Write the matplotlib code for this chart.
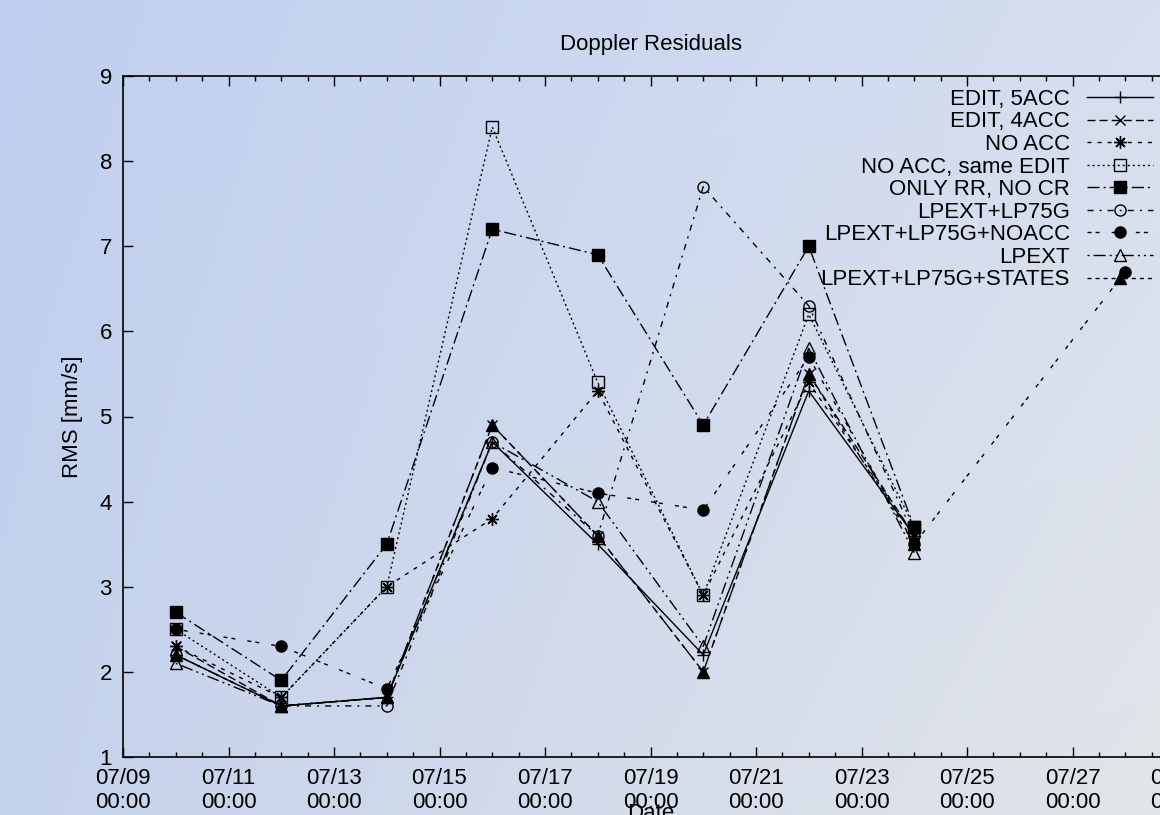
import numpy as np
import pandas as pd
import matplotlib
matplotlib.use("Agg")
import matplotlib.pyplot as plt
import matplotlib.dates as mdates

plt.rcParams["font.family"] = ["Liberation Sans", "DejaVu Sans"]
plt.rcParams["font.size"] = 16
plt.rcParams["lines.scale_dashes"] = False

# daily RMS of the Doppler residuals, one value per arc
arc_dates = pd.to_datetime(["2008-07-10", "2008-07-12", "2008-07-14", "2008-07-16",
                            "2008-07-18", "2008-07-20", "2008-07-22", "2008-07-24"])
late_dates = pd.to_datetime(["2008-07-10", "2008-07-12", "2008-07-14", "2008-07-16",
                             "2008-07-18", "2008-07-20", "2008-07-22", "2008-07-24",
                             "2008-07-28"])

edit_5acc = [2.2, 1.6, 1.7, 4.7, 3.5, 2.2, 5.3, 3.6]
edit_4acc = [2.3, 1.6, 1.7, 4.9, 3.6, 2.0, 5.5, 3.6]
no_acc = [2.3, 1.7, 3.0, 3.8, 5.3, 2.9, 5.4, 3.6]
no_acc_same_edit = [2.5, 1.7, 3.0, 8.4, 5.4, 2.9, 6.2, 3.7]
only_rr = [2.7, 1.9, 3.5, 7.2, 6.9, 4.9, 7.0, 3.7]
lpext_lp75g = [2.2, 1.6, 1.6, 4.7, 3.6, 7.7, 6.3, 3.6]
lpext_lp75g_noacc = [2.5, 2.3, 1.8, 4.4, 4.1, 3.9, 5.7, 3.5, 6.7]
lpext = [2.1, 1.6, 1.7, 4.7, 4.0, 2.3, 5.8, 3.4]
lpext_lp75g_states = [2.2, 1.6, 1.7, 4.9, 3.6, 2.0, 5.5, 3.5]

y_ticks = [1, 2, 3, 4, 5, 6, 7, 8, 9]

# gnuplot-like dash patterns, unit ~2 px
U = 1.45


def dash(*pattern):
    return (0, tuple(U * p for p in pattern))


series = [
    ("EDIT, 5ACC", arc_dates, edit_5acc, "-", "+", 9, True),
    ("EDIT, 4ACC", arc_dates, edit_4acc, dash(4, 2), "x", 7, True),
    ("NO ACC", arc_dates, no_acc, dash(2, 3), (8, 2, 0), 9, True),
    ("NO ACC, same EDIT", arc_dates, no_acc_same_edit, dash(1, 1.5), "s", 8, False),
    ("ONLY RR, NO CR", arc_dates, only_rr, dash(6, 2, 1, 2), "s", 8, True),
    ("LPEXT+LP75G", arc_dates, lpext_lp75g, dash(3, 3, 1, 3), "o", 8, False),
    ("LPEXT+LP75G+NOACC", late_dates, lpext_lp75g_noacc, dash(2, 2, 2, 6), "o", 8, True),
    ("LPEXT", arc_dates, lpext, dash(1, 2, 6, 2, 1, 2), "^", 8, False),
    ("LPEXT+LP75G+STATES", arc_dates, lpext_lp75g_states,
     dash(2, 2, 2, 2, 2, 2, 2, 4), "^", 8, True),
]

W, H = 1160, 815
fig = plt.figure(figsize=(W / 100, H / 100), dpi=100)

# soft blue backdrop
bg_ax = fig.add_axes([0, 0, 1, 1], zorder=0)
gx, gy = np.meshgrid(np.linspace(0, 1, 200), np.linspace(0, 1, 200))
tl = np.array([192, 207, 240]) / 255
tr = np.array([214, 223, 240]) / 255
bl = np.array([197, 210, 236]) / 255
br = np.array([226, 229, 233]) / 255
grad = ((1 - gx) * (1 - gy))[..., None] * tl + (gx * (1 - gy))[..., None] * tr \
    + ((1 - gx) * gy)[..., None] * bl + (gx * gy)[..., None] * br
bg_ax.imshow(grad, extent=[0, 1, 0, 1], aspect="auto", interpolation="bilinear")
bg_ax.axis("off")

# plot frame runs past the right edge of the figure
ax = fig.add_axes([123 / W, 58 / H, 1055 / W, 681 / H], zorder=1)
ax.patch.set_alpha(0)

for label, xs, ys, ls, mk, ms, filled in series:
    ax.plot(xs, ys, color="black", linestyle=ls, linewidth=1.0,
            marker=mk, markersize=ms, markeredgewidth=1.0,
            markerfacecolor="black" if filled else "none",
            markeredgecolor="black", label=label)

ax.set_xlim(pd.Timestamp("2008-07-09"), pd.Timestamp("2008-07-29"))
ax.set_ylim(1, 9)
ax.set_yticks(y_ticks)

ax.xaxis.set_major_locator(mdates.DayLocator(bymonthday=range(9, 30, 2)))
ax.xaxis.set_minor_locator(mdates.HourLocator(byhour=[0, 12]))
ax.xaxis.set_major_formatter(mdates.DateFormatter("%m/%d\n%H:%M"))

ax.tick_params(which="both", direction="in", top=True, right=True, width=1.0)
ax.tick_params(which="major", length=7.5, pad=8, labelsize=16)
ax.tick_params(which="minor", length=3.8)
for sp in ax.spines.values():
    sp.set_linewidth(1.2)

ax.set_title("Doppler Residuals", pad=18.5, fontsize=16)
ax.set_ylabel("RMS [mm/s]", fontsize=16)
ax.yaxis.set_label_coords(-0.038, 0.5)
ax.set_xlabel("Date", fontsize=16)
ax.xaxis.set_label_coords(0.5, -0.0675)

ax.legend(loc="upper right", bbox_to_anchor=(0.9765, 0.981), frameon=False,
          markerfirst=False, handlelength=3.0, handletextpad=0.75,
          labelspacing=0.07, borderpad=0, borderaxespad=0, numpoints=1,
          fontsize=16)

fig.savefig("out.png", dpi=100)
